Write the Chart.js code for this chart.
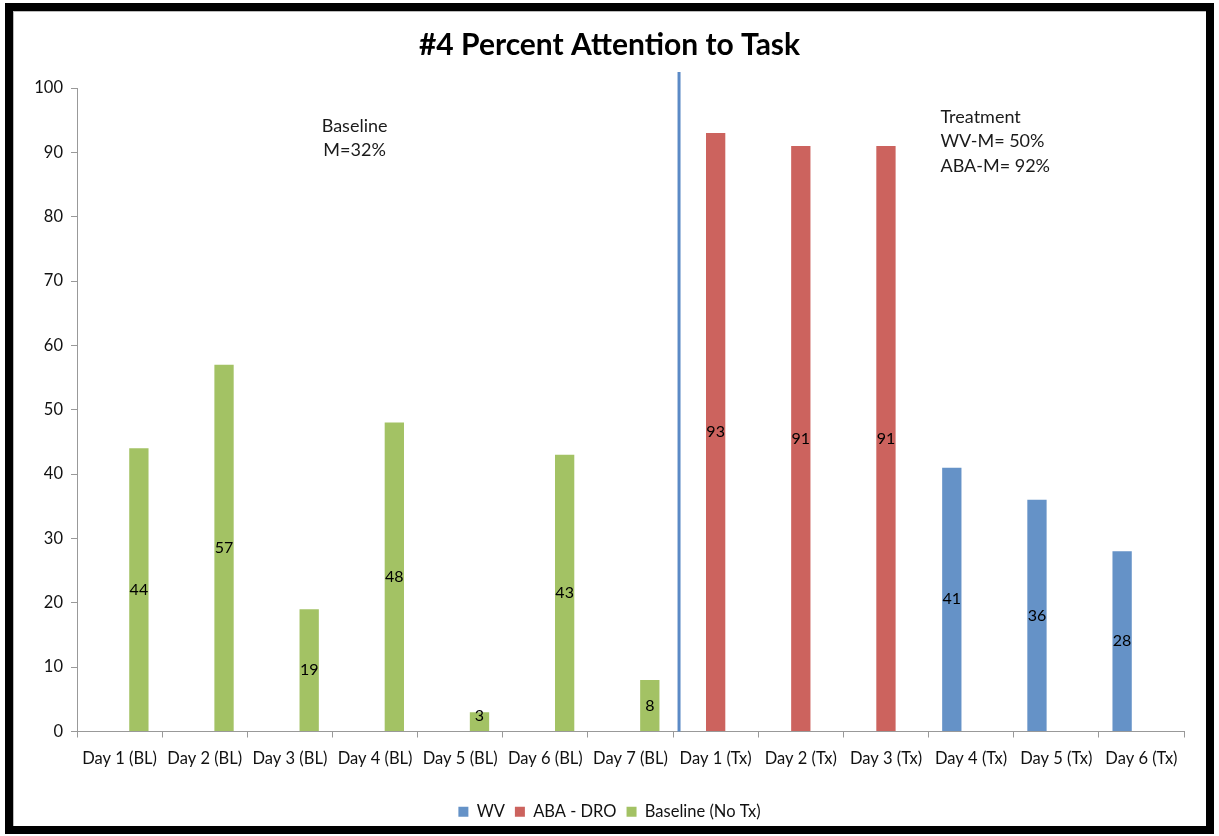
<!DOCTYPE html>
<html>
<head>
<meta charset="utf-8">
<script src="https://cdn.jsdelivr.net/npm/chart.js@4.4.1/dist/chart.umd.min.js"></script>
<style>
  html, body { margin: 0; padding: 0; background: #fff; }
  #wrap { position: relative; width: 1219px; height: 836px; }
  #chart { position: absolute; left: 0; top: 0; }
  #frame {
    position: absolute; left: 5px; top: 3px; width: 1193px; height: 815px;
    border: 8px solid #000; pointer-events: none;
    box-shadow: inset 1px 1px 0 #bbb;
  }
</style>
</head>
<body>
<div id="wrap">
  <canvas id="chart" width="1219" height="836"></canvas>
  <div id="frame"></div>
</div>
<script>
const categories = [
  'Day 1 (BL)', 'Day 2 (BL)', 'Day 3 (BL)', 'Day 4 (BL)', 'Day 5 (BL)', 'Day 6 (BL)', 'Day 7 (BL)',
  'Day 1 (Tx)', 'Day 2 (Tx)', 'Day 3 (Tx)', 'Day 4 (Tx)', 'Day 5 (Tx)', 'Day 6 (Tx)'
];
const wvValues       = [null, null, null, null, null, null, null, null, null, null, 41, 36, 28];
const abaValues      = [null, null, null, null, null, null, null, 93, 91, 91, null, null, null];
const baselineValues = [44, 57, 19, 48, 3, 43, 8, null, null, null, null, null, null];
const yTicks = [0, 10, 20, 30, 40, 50, 60, 70, 80, 90, 100];

const baselineNote  = ['Baseline', 'M=32%'];
const treatmentNote = ['Treatment', 'WV-M= 50%', 'ABA-M= 92%'];

const FONT = 'Lato, "Open Sans", sans-serif';

// value labels in the middle of each bar
const barLabels = {
  id: 'barLabels',
  afterDatasetsDraw(chart) {
    const ctx = chart.ctx;
    ctx.save();
    ctx.font = '16px ' + FONT;
    ctx.fillStyle = '#000';
    ctx.textAlign = 'center';
    ctx.textBaseline = 'middle';
    chart.data.datasets.forEach((ds, i) => {
      chart.getDatasetMeta(i).data.forEach((bar, j) => {
        const v = ds.data[j];
        if (v === null) return;
        let y = (bar.y + bar.base) / 2;
        y = Math.min(y, bar.base - 15);
        ctx.fillText(String(v), bar.x, y);
      });
    });
    ctx.restore();
  }
};

// phase change line and the phase notes
const phaseNotes = {
  id: 'phaseNotes',
  afterDraw(chart) {
    const { ctx, scales: { x, y } } = chart;
    ctx.save();
    const lx = x.getPixelForValue(6.57);
    ctx.strokeStyle = '#5b8ac6';
    ctx.lineWidth = 3;
    ctx.beginPath();
    ctx.moveTo(lx, y.getPixelForValue(102.5));
    ctx.lineTo(lx, y.getPixelForValue(0));
    ctx.stroke();

    ctx.font = '18px ' + FONT;
    ctx.fillStyle = '#1a1a1a';
    ctx.textBaseline = 'middle';
    ctx.textAlign = 'center';
    const bx = x.getPixelForValue(2.76);
    ctx.fillText(baselineNote[0], bx, y.getPixelForValue(94.1));
    ctx.fillText(baselineNote[1], bx, y.getPixelForValue(90.4));

    ctx.textAlign = 'left';
    const tx = x.getPixelForValue(9.64);
    const tyVals = [95.5, 91.7, 87.9];
    treatmentNote.forEach((t, i) => ctx.fillText(t, tx, y.getPixelForValue(tyVals[i])));
    ctx.restore();
  }
};

new Chart(document.getElementById('chart').getContext('2d'), {
  type: 'bar',
  data: {
    labels: categories,
    datasets: [
      { label: 'WV', data: wvValues, backgroundColor: '#6592c7' },
      { label: 'ABA - DRO', data: abaValues, backgroundColor: '#cc635e' },
      { label: 'Baseline (No Tx)', data: baselineValues, backgroundColor: '#a3c264' }
    ]
  },
  options: {
    responsive: false,
    animation: false,
    events: [],
    layout: { padding: { left: 35, right: 35, top: 0, bottom: 6 } },
    datasets: {
      bar: { categoryPercentage: 0.68, barPercentage: 1.0 }
    },
    scales: {
      x: {
        grid: { drawOnChartArea: false, drawTicks: true, tickLength: 6, color: '#999', offset: true },
        border: { display: true, color: '#999', width: 1 },
        ticks: { color: '#111', font: { family: FONT, size: 16.5 }, padding: 11, maxRotation: 0, autoSkip: false },
        afterFit(scale) { scale.height = 62; }
      },
      y: {
        min: 0, max: 100,
        afterBuildTicks(scale) { scale.ticks = yTicks.map(v => ({ value: v })); },
        grid: { drawOnChartArea: false, drawTicks: true, tickLength: 6, color: '#999' },
        border: { display: true, color: '#999', width: 1 },
        ticks: { color: '#111', font: { family: FONT, size: 16.5 }, padding: 8 },
        afterFit(scale) { scale.width = 42; }
      }
    },
    plugins: {
      title: {
        display: true,
        text: '#4 Percent Attention to Task',
        color: '#000',
        font: { family: FONT, size: 30, weight: 'bold', lineHeight: 1.2 },
        padding: { top: 27, bottom: 25 }
      },
      legend: {
        position: 'bottom',
        labels: {
          boxWidth: 10, boxHeight: 10, padding: 10,
          color: '#111',
          font: { family: FONT, size: 16.5 }
        }
      },
      tooltip: { enabled: false }
    }
  },
  plugins: [barLabels, phaseNotes]
});
</script>
</body>
</html>
